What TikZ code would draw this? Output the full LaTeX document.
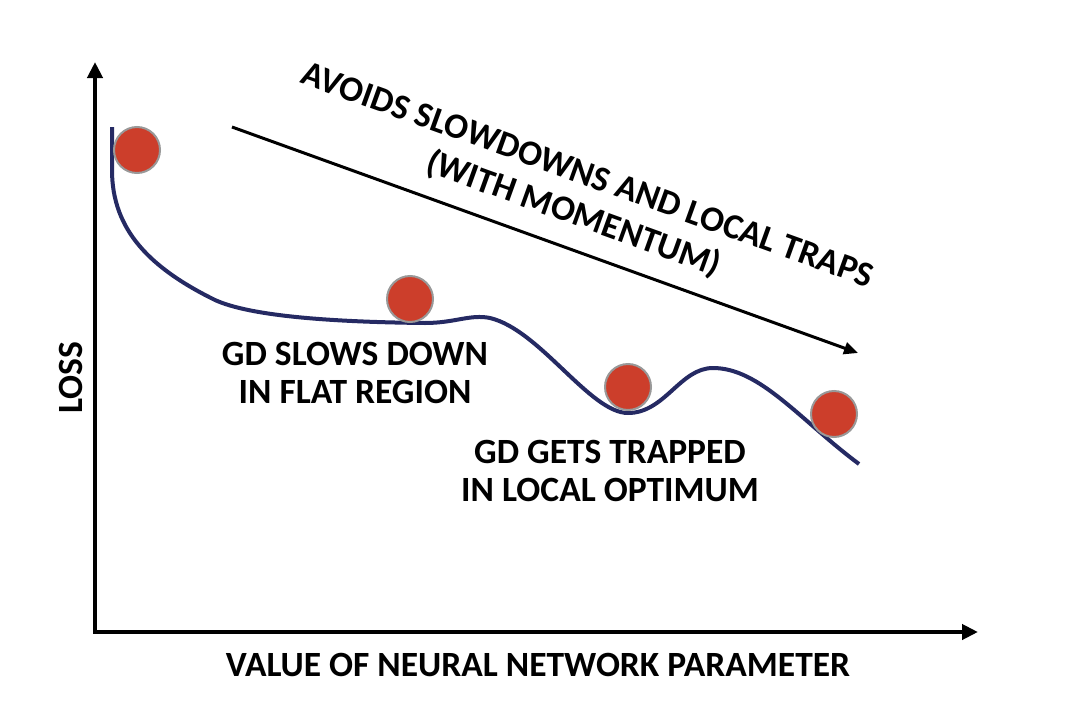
\documentclass[tikz,border=0pt]{standalone}
\usepackage{fontspec}
\setmainfont{Carlito}
\usetikzlibrary{arrows.meta}
\definecolor{ballred}{HTML}{CC3E2B}
\definecolor{curvenavy}{HTML}{252A63}

\begin{document}
\begin{tikzpicture}[x=1pt,y=-1pt,
  lbl/.style={font=\fontsize{35.5}{38}\selectfont\bfseries,align=center,inner sep=0pt},
  ball/.style={circle,fill=ballred,draw=gray!80,line width=2pt,minimum size=46pt,inner sep=0pt}]
  \useasboundingbox (0,0) rectangle (1076,728);
  % axes
  \coordinate (ytop) at (95,62);
  \coordinate (orig) at (95,632);
  \coordinate (xend) at (978,632);
  \draw[line width=4pt,{Triangle[length=16pt,width=15pt]}-{Triangle[length=16pt,width=15pt]}]
    (ytop) -- (orig) -- (xend);
  \node[lbl,rotate=90] (lossLabel) at (71,378) {LOSS};
  \node[lbl] (paramLabel) at (538,665) {VALUE OF NEURAL NETWORK PARAMETER};
  % loss curve
  \draw[curvenavy,line width=4pt] (112,127) -- (112,170)
    .. controls (112,230) and (150,268) .. (215,300)
    .. controls (250,316) and (330,322) .. (425,323)
    .. controls (455,323) and (470,314) .. (490,318)
    .. controls (540,330) and (590,413) .. (628,413)
    .. controls (665,413) and (680,368) .. (713,368)
    .. controls (760,368) and (800,420) .. (859,464);
  % balls
  \node[ball] (ballStart) at (137,150) {};
  \node[ball] (ballFlat) at (410,299) {};
  \node[ball] (ballTrap) at (628,387) {};
  \node[ball] (ballEnd) at (834,414) {};
  % momentum arrow
  \coordinate (momStart) at (232,127);
  \coordinate (momEnd) at (858,353);
  \draw[line width=3pt,-{Triangle[length=14pt,width=12pt]}] (momStart) -- (momEnd);
  \node[lbl,rotate=-19.8,font=\fontsize{35.5}{41}\selectfont\bfseries] (momLabel) at (580,196)
    {AVOIDS SLOWDOWNS AND LOCAL TRAPS\\(WITH MOMENTUM)};
  % annotations
  \node[lbl] (flatLabel) at (355,373) {GD SLOWS DOWN\\IN FLAT REGION};
  \node[lbl] (trapLabel) at (610,471) {GD GETS TRAPPED\\IN LOCAL OPTIMUM};
\end{tikzpicture}
\end{document}
